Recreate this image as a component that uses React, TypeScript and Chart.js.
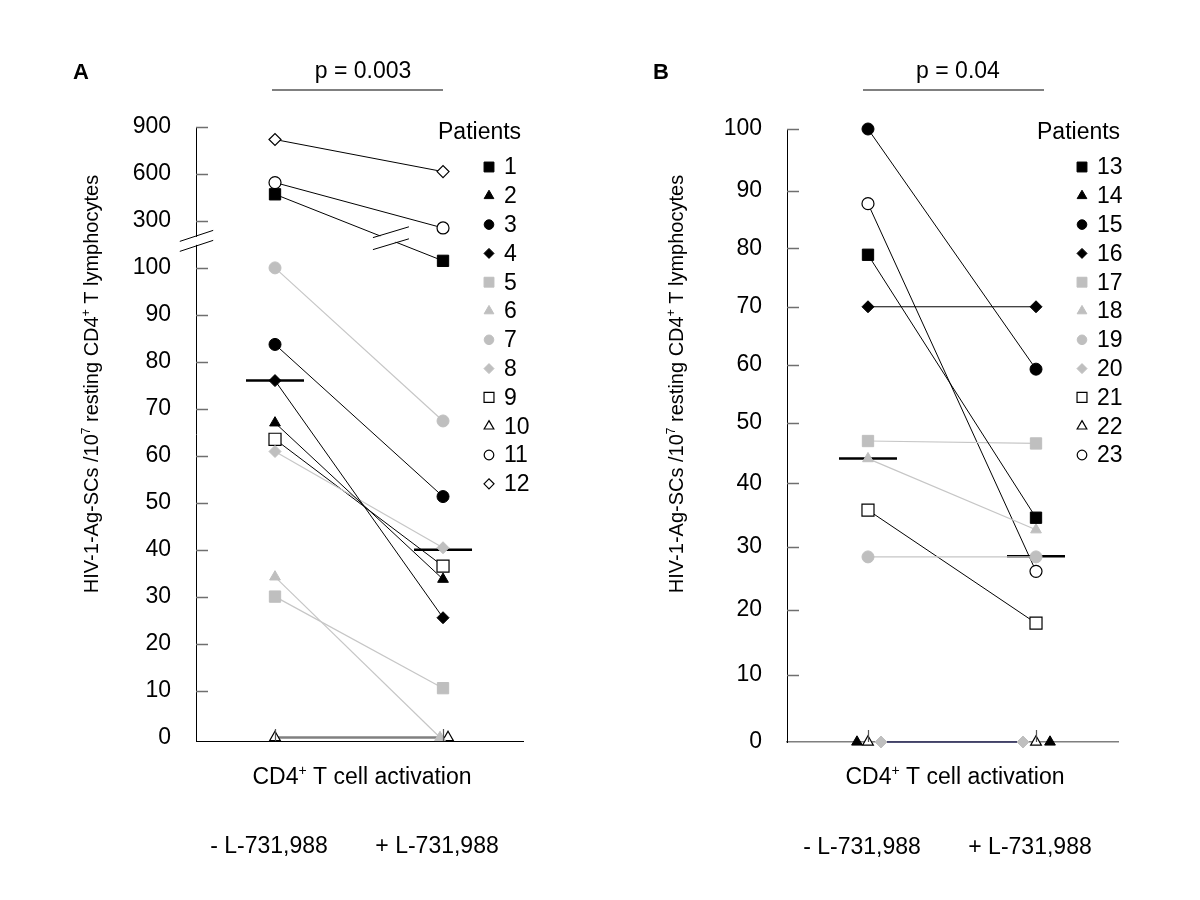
import React, { useEffect, useRef } from 'react';
import { Chart, registerables, LinearScale } from 'chart.js';
import { drawPoint } from 'chart.js/helpers';

Chart.register(...registerables);

const FONT = '"Liberation Sans", Arial, Helvetica, sans-serif';
Chart.defaults.font.family = FONT;

// ---------------- data ----------------
const categories = ['- L-731,988', '+ L-731,988'];

const patientsA = ['1', '2', '3', '4', '5', '6', '7', '8', '9', '10', '11', '12'];
const withoutA = [470, 67, 83.7, 76, 30, 34.2, 100, 60.9, 63.5, 0, 545, 820];
const withA = [130, 33.7, 51.3, 25.5, 10.5, 0, 67.4, 40.4, 36.5, 0, 270, 615];
const meanA = [76, 40];
const yTicksA = [0, 10, 20, 30, 40, 50, 60, 70, 80, 90, 100, 300, 600, 900];
const pValueA = 'p = 0.003';

const patientsB = ['13', '14', '15', '16', '17', '18', '19', '20', '21', '22', '23'];
const withoutB = [78.9, 0, 100, 70, 47.0, 44.1, 28.4, 0, 35.8, 0, 87.8];
const withB = [34.6, 0, 59.3, 70, 46.6, 32.7, 28.4, 0, 17.9, 0, 26.1];
const meanB = [44.1, 28.5];
const yTicksB = [0, 10, 20, 30, 40, 50, 60, 70, 80, 90, 100];
const pValueB = 'p = 0.04';

// axis segment geometry (value -> axis units), broken axis in A, as drawn in B
const axisSegmentsA = [[0, 0], [100, 100], [300, 110], [900, 130]];
const axisSegmentsB = [[0, 0], [10, 11.0], [20, 21.61], [30, 31.83], [40, 42.17], [50, 52.07], [60, 61.48], [70, 71.0], [80, 80.53], [90, 89.88], [100, 100]];

type Seg = { t: string; sup?: boolean };
const yTitle: Seg[] = [
  { t: 'HIV-1-Ag-SCs /10' }, { t: '7', sup: true }, { t: ' resting CD4' }, { t: '+', sup: true }, { t: ' T lymphocytes' },
];
const xTitle: Seg[] = [{ t: 'CD4' }, { t: '+', sup: true }, { t: ' T cell activation' }];

// ---------------- scale ----------------
function makeSegmentScale(id: string, knots: number[][]) {
  const toD = (v: number) => {
    let i = 0;
    while (i < knots.length - 2 && v > knots[i + 1][0]) i++;
    const [v0, d0] = knots[i];
    const [v1, d1] = knots[i + 1];
    return d0 + ((v - v0) * (d1 - d0)) / (v1 - v0);
  };
  const fromD = (d: number) => {
    let i = 0;
    while (i < knots.length - 2 && d > knots[i + 1][1]) i++;
    const [v0, d0] = knots[i];
    const [v1, d1] = knots[i + 1];
    return v0 + ((d - d0) * (v1 - v0)) / (d1 - d0);
  };
  class SegScale extends LinearScale {
    static id = id;
    static defaults = LinearScale.defaults;
    getPixelForValue(value: any) {
      if (value === null || value === undefined || isNaN(value)) return NaN;
      const a = toD((this as any).min), b = toD((this as any).max);
      return (this as any).getPixelForDecimal((toD(value) - a) / (b - a));
    }
    getValueForPixel(pixel: number) {
      const a = toD((this as any).min), b = toD((this as any).max);
      return fromD(a + (this as any).getDecimalForPixel(pixel) * (b - a));
    }
  }
  return SegScale;
}
Chart.register(makeSegmentScale('segA', axisSegmentsA) as any, makeSegmentScale('segB', axisSegmentsB) as any);

// ---------------- styles ----------------
const SHAPES = ['rect', 'triangle', 'circle', 'rectRot'];
const RADIUS: Record<string, number> = { rect: 8, triangle: 6.2, circle: 6, rectRot: 6 };
const LEG_RADIUS: Record<string, number> = { rect: 7, triangle: 5.6, circle: 4.8, rectRot: 5 };
const GREY = '#bfbfbf';
const GREY_LINE = '#c6c6c6';

function markerStyle(i: number) {
  const shape = SHAPES[i % 4];
  const group = Math.floor(i / 4);
  return {
    shape,
    group,
    fill: group === 0 ? '#000' : group === 1 ? GREY : '#fff',
    border: group === 1 ? GREY : '#000',
    line: group === 1 ? GREY_LINE : '#000',
  };
}

type Override = { dx?: [number, number]; noLine?: boolean; lineColor?: string; lineWidth?: number };

type PanelCfg = {
  key: string; left: number; letter: string; letterX: number;
  pValue: string; pX: number; pLine: [number, number];
  patients: string[]; before: number[]; after: number[]; mean: number[]; yTicks: number[];
  scaleId: string; yMin: number; yMax: number;
  axisLeft: number; plotRight: number; plotTop: number; plotBottom: number; xMin: number; xMax: number;
  yTitleX: number; yTitleY: number; xTitleX: number; xTitleY: number;
  legTitleX: number; legMarkerX: number; legTextX: number;
  xBorderColor: string; xBorderWidth: number;
  overrides: Record<number, Override>;
  lineBreak?: { index: number; t: number };
  axisBreakValue?: number;
};

const panelA: PanelCfg = {
  key: 'A', left: 0, letter: 'A', letterX: 73, pValue: pValueA, pX: 363, pLine: [272, 443],
  patients: patientsA, before: withoutA, after: withA, mean: meanA, yTicks: yTicksA,
  scaleId: 'segA', yMin: -0.75, yMax: 900,
  axisLeft: 196, plotRight: 523, plotTop: 127, plotBottom: 741, xMin: 0.5298, xMax: 2.476,
  yTitleX: 91, yTitleY: 384, xTitleX: 362, xTitleY: 776,
  legTitleX: 438, legMarkerX: 489, legTextX: 504,
  xBorderColor: '#000', xBorderWidth: 1,
  overrides: { 5: { dx: [0, -3] }, 9: { dx: [0, 5], lineColor: '#808080', lineWidth: 2.5 } },
  lineBreak: { index: 0, t: 0.69 },
  axisBreakValue: 215,
};

const panelB: PanelCfg = {
  key: 'B', left: 600, letter: 'B', letterX: 53, pValue: pValueB, pX: 358, pLine: [263, 444],
  patients: patientsB, before: withoutB, after: withB, mean: meanB, yTicks: yTicksB,
  scaleId: 'segB', yMin: 0, yMax: 100,
  axisLeft: 187, plotRight: 518, plotTop: 129, plotBottom: 742, xMin: 0.518, xMax: 2.488,
  yTitleX: 76, yTitleY: 384, xTitleX: 355, xTitleY: 776,
  legTitleX: 437, legMarkerX: 482, legTextX: 497,
  xBorderColor: '#7f7f7f', xBorderWidth: 1.5,
  overrides: {
    1: { dx: [-11, 14], noLine: true },
    7: { dx: [13, -13], lineColor: '#2e2e5e', lineWidth: 1.5 },
    9: { noLine: true },
  },
};

// ---------------- drawing helpers ----------------
function drawRich(ctx: CanvasRenderingContext2D, segs: Seg[], cx: number, cy: number, size: number, rotate: boolean) {
  ctx.save();
  ctx.translate(cx, cy);
  if (rotate) ctx.rotate(-Math.PI / 2);
  const fonts = segs.map((s) => `${s.sup ? Math.round(size * 0.62) : size}px ${FONT}`);
  let total = 0;
  const widths = segs.map((s, i) => {
    ctx.font = fonts[i];
    const w = ctx.measureText(s.t).width;
    total += w;
    return w;
  });
  let x = -total / 2;
  ctx.textAlign = 'left';
  ctx.textBaseline = 'alphabetic';
  ctx.fillStyle = '#000';
  const base = size * 0.36;
  segs.forEach((s, i) => {
    ctx.font = fonts[i];
    ctx.fillText(s.t, x, base - (s.sup ? size * 0.4 : 0));
    x += widths[i];
  });
  ctx.restore();
}

function drawBreak(ctx: CanvasRenderingContext2D, cx: number, cy: number, hx: number, slope: number, half: number) {
  ctx.save();
  ctx.fillStyle = '#fff';
  ctx.beginPath();
  ctx.moveTo(cx - hx, cy - slope * hx - half + 1);
  ctx.lineTo(cx + hx, cy + slope * hx - half + 1);
  ctx.lineTo(cx + hx, cy + slope * hx + half - 1);
  ctx.lineTo(cx - hx, cy - slope * hx + half - 1);
  ctx.closePath();
  ctx.fill();
  ctx.strokeStyle = '#000';
  ctx.lineWidth = 1;
  ctx.beginPath();
  ctx.moveTo(cx - hx, cy - slope * hx - half);
  ctx.lineTo(cx + hx, cy + slope * hx - half);
  ctx.moveTo(cx - hx, cy - slope * hx + half);
  ctx.lineTo(cx + hx, cy + slope * hx + half);
  ctx.stroke();
  ctx.restore();
}

function decorPlugin(cfg: PanelCfg) {
  return {
    id: 'decor' + cfg.key,
    afterDatasetsDraw(chart: any) {
      const ctx: CanvasRenderingContext2D = chart.ctx;
      if (cfg.lineBreak) {
        const pts = chart.getDatasetMeta(cfg.lineBreak.index).data;
        const t = cfg.lineBreak.t;
        const cx = pts[0].x + (pts[1].x - pts[0].x) * t;
        const cy = pts[0].y + (pts[1].y - pts[0].y) * t - 2;
        drawBreak(ctx, cx, cy, 18, -0.3, 6);
      }
    },
    afterDraw(chart: any) {
      const ctx: CanvasRenderingContext2D = chart.ctx;
      const ys = chart.scales.y;
      const xs = chart.scales.x;
      const area = chart.chartArea;
      ctx.save();
      // inward ticks on y axis
      ctx.strokeStyle = '#6f6f6f';
      ctx.lineWidth = 1.5;
      ctx.beginPath();
      cfg.yTicks.forEach((v) => {
        if (v === 0) return;
        const y = Math.round(ys.getPixelForValue(v)) + 0.5;
        ctx.moveTo(area.left, y);
        ctx.lineTo(area.left + 12, y);
      });
      ctx.stroke();
      // inward ticks on x axis
      ctx.strokeStyle = '#555';
      ctx.lineWidth = 1.2;
      ctx.beginPath();
      [1, 2].forEach((v) => {
        const x = Math.round(xs.getPixelForValue(v)) + 0.5;
        ctx.moveTo(x, area.bottom);
        ctx.lineTo(x, area.bottom - 12);
      });
      ctx.stroke();
      ctx.restore();

      if (cfg.axisBreakValue !== undefined) {
        drawBreak(ctx, area.left + 0.5, ys.getPixelForValue(cfg.axisBreakValue), 16.7, -0.33, 5);
      }

      ctx.save();
      // panel letter
      ctx.fillStyle = '#000';
      ctx.font = `bold 22px ${FONT}`;
      ctx.textAlign = 'left';
      ctx.textBaseline = 'alphabetic';
      ctx.fillText(cfg.letter, cfg.letterX, 79);
      // p-value
      ctx.font = `23px ${FONT}`;
      ctx.textAlign = 'center';
      ctx.fillText(cfg.pValue, cfg.pX, 78);
      ctx.strokeStyle = '#808080';
      ctx.lineWidth = 2;
      ctx.beginPath();
      ctx.moveTo(cfg.pLine[0], 90);
      ctx.lineTo(cfg.pLine[1], 90);
      ctx.stroke();
      // legend
      ctx.textAlign = 'left';
      ctx.textBaseline = 'middle';
      ctx.font = `23px ${FONT}`;
      ctx.fillText('Patients', cfg.legTitleX, 133);
      cfg.patients.forEach((p, i) => {
        const y = 167 + i * 28.8;
        const st = markerStyle(i);
        ctx.fillStyle = st.fill;
        ctx.strokeStyle = st.border;
        ctx.lineWidth = st.group === 2 ? 1.2 : 1;
        drawPoint(ctx, { pointStyle: st.shape as any, rotation: 0, radius: LEG_RADIUS[st.shape], borderWidth: ctx.lineWidth }, cfg.legMarkerX, y);
        ctx.fillStyle = '#000';
        ctx.fillText(p, cfg.legTextX, y + 1);
      });
      ctx.restore();

      drawRich(ctx, yTitle, cfg.yTitleX, cfg.yTitleY, 20, true);
      drawRich(ctx, xTitle, cfg.xTitleX, cfg.xTitleY, 23, false);
    },
  };
}

function buildConfig(cfg: PanelCfg): any {
  const pxPerX = (cfg.plotRight - cfg.axisLeft) / (cfg.xMax - cfg.xMin);
  const half = 29 / pxPerX;
  const datasets: any[] = [];
  cfg.patients.forEach((p, i) => {
    const st = markerStyle(i);
    const ov = cfg.overrides[i] || {};
    const dx = ov.dx || [0, 0];
    datasets.push({
      label: p,
      data: [
        { x: 1 + dx[0] / pxPerX, y: cfg.before[i] },
        { x: 2 + dx[1] / pxPerX, y: cfg.after[i] },
      ],
      showLine: !ov.noLine,
      borderColor: ov.lineColor || st.line,
      borderWidth: ov.lineWidth || (st.group === 1 ? 1.2 : 1),
      pointStyle: st.shape,
      pointRadius: RADIUS[st.shape] + (st.group === 2 && st.shape === 'rect' ? 0.5 : 0),
      pointBackgroundColor: st.fill,
      pointBorderColor: st.border,
      pointBorderWidth: st.group === 2 ? 1.2 : 1,
      clip: false,
      tension: 0,
    });
  });
  cfg.mean.forEach((m, k) => {
    datasets.push({
      label: 'mean' + k,
      data: [
        { x: k + 1 - half, y: m },
        { x: k + 1 + half, y: m },
      ],
      borderColor: '#000',
      borderWidth: 2.5,
      pointRadius: 0,
      clip: false,
    });
  });

  return {
    type: 'line',
    data: { datasets },
    options: {
      responsive: false,
      animation: false,
      devicePixelRatio: 1,
      events: [],
      layout: { padding: { left: 0, top: cfg.plotTop, right: 600 - cfg.plotRight, bottom: 0 } },
      plugins: { legend: { display: false }, tooltip: { enabled: false }, title: { display: false } },
      scales: {
        x: {
          type: 'linear',
          position: 'bottom',
          min: cfg.xMin,
          max: cfg.xMax,
          afterBuildTicks: (s: any) => {
            s.ticks = [{ value: 1 }, { value: 2 }];
          },
          afterFit: (s: any) => {
            s.height = 900 - cfg.plotBottom;
            s.paddingLeft = 0;
            s.paddingRight = 0;
          },
          ticks: {
            callback: (v: any) => categories[Math.round(v) - 1] ?? '',
            padding: 92,
            labelOffset: -6,
            autoSkip: false,
            maxRotation: 0,
            minRotation: 0,
            color: '#000',
            font: { size: 23, family: FONT },
          },
          grid: { display: true, drawOnChartArea: false, drawTicks: false },
          border: { display: true, color: cfg.xBorderColor, width: cfg.xBorderWidth },
        },
        y: {
          type: cfg.scaleId,
          position: 'left',
          min: cfg.yMin,
          max: cfg.yMax,
          bounds: 'data',
          afterBuildTicks: (s: any) => {
            s.ticks = cfg.yTicks.map((v) => ({ value: v }));
          },
          afterFit: (s: any) => {
            s.width = cfg.axisLeft;
            s.paddingTop = 0;
            s.paddingBottom = 0;
          },
          ticks: {
            callback: (v: any) => String(v),
            padding: 25,
            autoSkip: false,
            color: '#000',
            font: { size: 23, family: FONT },
          },
          grid: { display: true, drawOnChartArea: false, drawTicks: false },
          border: { display: true, color: '#000', width: 1 },
        },
      },
    },
    plugins: [decorPlugin(cfg)],
  };
}

function Panel({ cfg }: { cfg: PanelCfg }) {
  const ref = useRef<HTMLCanvasElement>(null);
  useEffect(() => {
    if (!ref.current) return;
    const chart = new Chart(ref.current, buildConfig(cfg));
    return () => chart.destroy();
  }, [cfg]);
  return (
    <canvas
      ref={ref}
      width={600}
      height={900}
      style={{ position: 'absolute', left: cfg.left, top: 0, width: 600, height: 900 }}
    />
  );
}

export default function App() {
  return (
    <div style={{ position: 'absolute', left: 0, top: 0, width: 1200, height: 900, background: '#fff', overflow: 'hidden' }}>
      <Panel cfg={panelA} />
      <Panel cfg={panelB} />
    </div>
  );
}
